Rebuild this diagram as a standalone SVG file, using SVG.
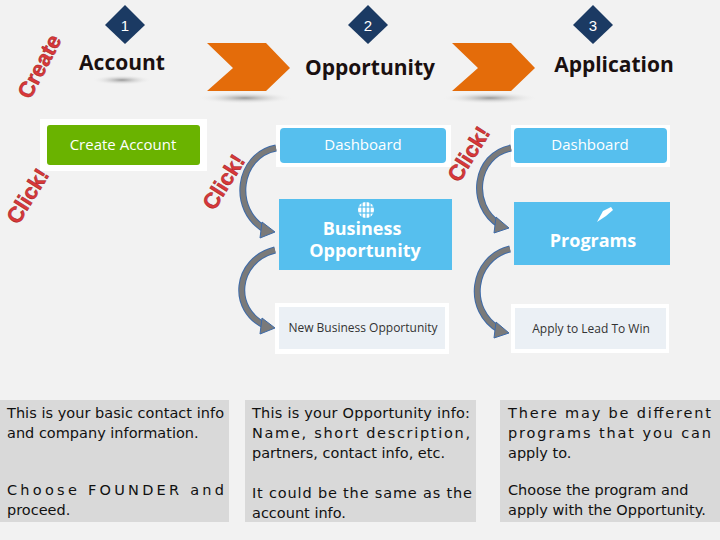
<svg xmlns="http://www.w3.org/2000/svg" width="720" height="540" viewBox="0 0 720 540">
<style>
.dia{fill:#1b3a63}
.num{font:15px "Liberation Sans",sans-serif;fill:#fff;text-anchor:middle}
.ttl{font:bold 21px "Open Sans","Liberation Sans",sans-serif;fill:#1a1010;text-anchor:middle}
.chev{fill:#e46c0a}
.red{font:bold 22px "Liberation Sans",sans-serif;fill:#d9383a;stroke:#a02020;stroke-width:0.5;text-anchor:middle}
.wbox{fill:#fff}
.blue{fill:#56bfee}
.btxt{font:15px "Open Sans","Liberation Sans",sans-serif;fill:#fff;text-anchor:middle}
.big{font:bold 18px "Open Sans","Liberation Sans",sans-serif;fill:#fff;text-anchor:middle}
.light{fill:#ebf0f5}
.stxt{font:12px "Open Sans","Liberation Sans",sans-serif;fill:#333;text-anchor:middle}
.note{fill:#d9d9d9}
.nt{font:14.5px "DejaVu Sans","Liberation Sans",sans-serif;fill:#111}
.arr{fill:none;stroke:#3d6aa8;stroke-width:7}
.arri{fill:none;stroke:#7a7a7a;stroke-width:5}
.head{fill:#7a7a7a;stroke:#3d6aa8;stroke-width:1}
</style>
<defs>
<radialGradient id="sh"><stop offset="0" stop-color="#999"/><stop offset="1" stop-color="#f2f2f2" stop-opacity="0"/></radialGradient>
</defs>
<rect width="720" height="540" fill="#f2f2f2"/>
<g id="step1">
<path class="dia" d="M125 5L145 25L125 44L105 25Z"/><text class="num" x="125" y="31">1</text>
<ellipse cx="122" cy="80" rx="30" ry="5" fill="url(#sh)"/>
<text class="ttl" x="122" y="70">Account</text>
</g>
<g id="step2">
<path class="dia" d="M368 5L388 25L368 44L348 25Z"/><text class="num" x="368" y="31">2</text>
<text class="ttl" x="370" y="75">Opportunity</text>
</g>
<g id="step3">
<path class="dia" d="M593 5L613 25L593 44L573 25Z"/><text class="num" x="593" y="31">3</text>
<text class="ttl" x="614" y="72">Application</text>
</g>
<g id="chevrons">
<ellipse cx="245" cy="98" rx="48" ry="6" fill="url(#sh)"/>
<path class="chev" d="M207 43H266L290 68L266 91H207L233 68Z"/>
<ellipse cx="490" cy="98" rx="48" ry="6" fill="url(#sh)"/>
<path class="chev" d="M452 43H511L535 68L511 91H452L478 68Z"/>
</g>
<g id="createAccount">
<rect class="wbox" x="40" y="119" width="167" height="52"/>
<rect x="47" y="125" width="153" height="40" rx="3" fill="#6ab300"/>
<text class="btxt" x="123" y="150" font-size="16">Create Account</text>
</g>
<g id="dashboard2">
<rect class="wbox" x="276" y="125" width="175" height="42"/>
<rect class="blue" x="280" y="128" width="166" height="35" rx="4"/>
<text class="btxt" x="363" y="150">Dashboard</text>
</g>
<g id="businessOpportunity">
<rect class="blue" x="279" y="199" width="173" height="71"/>
<circle cx="366" cy="210" r="8" fill="#fff"/>
<g stroke="#56bfee" stroke-width="1.2"><line x1="358" y1="207" x2="374" y2="207"/><line x1="358" y1="213" x2="374" y2="213"/><line x1="362" y1="202" x2="362" y2="218"/><line x1="366" y1="202" x2="366" y2="218"/><line x1="370" y1="202" x2="370" y2="218"/></g>
<text class="big" x="362" y="235">Business</text>
<text class="big" x="365" y="257">Opportunity</text>
</g>
<g id="newBusinessOpportunity">
<rect class="wbox" x="275" y="303" width="174" height="51"/>
<rect class="light" x="279" y="307" width="166" height="42"/>
<text class="stxt" x="363" y="332">New Business Opportunity</text>
</g>
<g id="dashboard3">
<rect class="wbox" x="511" y="125" width="159" height="42"/>
<rect class="blue" x="514" y="128" width="153" height="35" rx="4"/>
<text class="btxt" x="590" y="150">Dashboard</text>
</g>
<g id="programs">
<rect class="blue" x="514" y="202" width="156" height="63"/>
<path d="M597 222L603 211L611 207L613 210L606 216Z" fill="#fff"/>
<text class="big" x="593" y="247" font-size="20">Programs</text>
</g>
<g id="applyLead">
<rect class="wbox" x="511" y="304" width="158" height="49"/>
<rect class="light" x="515" y="308" width="151" height="41"/>
<text class="stxt" x="591" y="333">Apply to Lead To Win</text>
</g>
<g id="connectors">
<path class="arr" d="M276 148C238 155 230 210 266 230"/><path class="arri" d="M276 148C238 155 230 210 266 230"/>
<path class="head" d="M262 222L275 232L260 238Z"/>
<path class="arr" d="M275 250C235 260 230 310 266 326"/><path class="arri" d="M275 250C235 260 230 310 266 326"/>
<path class="head" d="M262 318L275 328L260 334Z"/>
<path class="arr" d="M511 148C475 155 468 205 500 225"/><path class="arri" d="M511 148C475 155 468 205 500 225"/>
<path class="head" d="M496 217L509 228L494 233Z"/>
<path class="arr" d="M510 249C472 258 465 310 500 330"/><path class="arri" d="M510 249C472 258 465 310 500 330"/>
<path class="head" d="M496 322L509 333L494 338Z"/>
</g>
<g id="labels">
<text class="red" transform="translate(46,70) rotate(-62)">Create</text>
<text class="red" transform="translate(34,200) rotate(-58)">Click!</text>
<text class="red" transform="translate(230,186) rotate(-58)">Click!</text>
<text class="red" transform="translate(475,158) rotate(-58)">Click!</text>
</g>
<g id="note1">
<rect class="note" x="0" y="400" width="229" height="122"/>
<text class="nt" x="7" y="418" textLength="217" lengthAdjust="spacing">This is your basic contact info</text>
<text class="nt" x="7" y="438">and company information.</text>
<text class="nt" x="7" y="495" textLength="217" lengthAdjust="spacing">Choose FOUNDER and</text>
<text class="nt" x="7" y="515">proceed.</text>
</g>
<g id="note2">
<rect class="note" x="245" y="400" width="231" height="122"/>
<text class="nt" x="252" y="418" textLength="218" lengthAdjust="spacing">This is your Opportunity  info:</text>
<text class="nt" x="252" y="438" textLength="218" lengthAdjust="spacing">Name, short description,</text>
<text class="nt" x="252" y="458">partners, contact info, etc.</text>
<text class="nt" x="252" y="498" textLength="220" lengthAdjust="spacing">It could be the same as the</text>
<text class="nt" x="252" y="518">account info.</text>
</g>
<g id="note3">
<rect class="note" x="500" y="400" width="220" height="122"/>
<text class="nt" x="508" y="418" textLength="203" lengthAdjust="spacing">There may be different</text>
<text class="nt" x="508" y="438" textLength="203" lengthAdjust="spacing">programs that you can</text>
<text class="nt" x="508" y="458">apply to.</text>
<text class="nt" x="508" y="495">Choose the program and</text>
<text class="nt" x="508" y="515">apply with the Opportunity.</text>
</g>
</svg>
